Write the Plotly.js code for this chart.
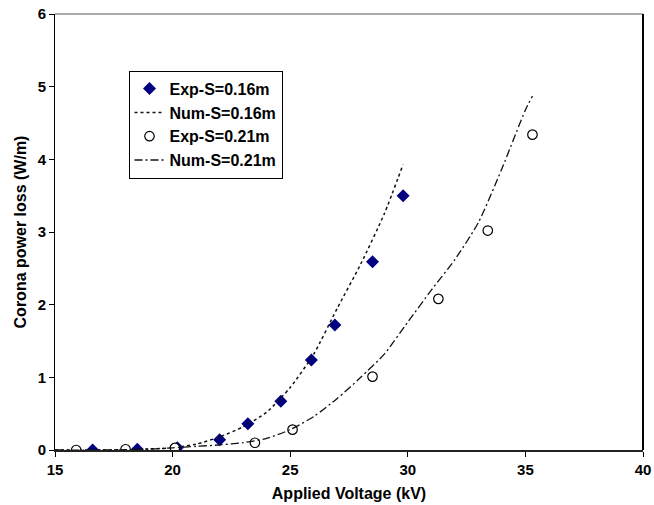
<!DOCTYPE html>
<html>
<head>
<meta charset="utf-8">
<script src="https://cdn.plot.ly/plotly-3.0.1.min.js"></script>
<style>html,body{margin:0;padding:0;background:#fff;}#chart{width:654px;height:505px;}</style>
</head>
<body>
<div id="chart"></div>
<script>
// Experimental, S = 0.16 m
const expS016_x = [16.6, 18.5, 20.2, 22.0, 23.2, 24.6, 25.9, 26.9, 28.5, 29.8];
const expS016_y = [0.0, 0.01, 0.03, 0.14, 0.36, 0.67, 1.24, 1.72, 2.59, 3.50];
// Numerical, S = 0.16 m
const numS016_x = [15, 16, 17, 18, 19, 20, 21, 22, 23, 24, 25, 26, 27, 28, 29, 29.8];
const numS016_y = [0, 0, 0, 0.005, 0.015, 0.03, 0.08, 0.18, 0.32, 0.52, 0.86, 1.32, 1.95, 2.56, 3.25, 3.93];
// Experimental, S = 0.21 m
const expS021_x = [15.9, 18.0, 20.1, 23.5, 25.1, 28.5, 31.3, 33.4, 35.3];
const expS021_y = [0.0, 0.01, 0.03, 0.10, 0.28, 1.01, 2.08, 3.02, 4.34];
// Numerical, S = 0.21 m
const numS021_x = [15, 17, 19, 20, 21, 22, 23, 24, 25, 26, 27, 28, 29, 30, 31, 32, 33, 34, 35, 35.3];
const numS021_y = [0, 0, 0.01, 0.03, 0.05, 0.07, 0.10, 0.16, 0.28, 0.46, 0.71, 1.00, 1.32, 1.76, 2.20, 2.62, 3.13, 3.87, 4.68, 4.87];

const xTicks = [15, 20, 25, 30, 35, 40];
const yTicks = [0, 1, 2, 3, 4, 5, 6];

const FONT = 'Arial, "Liberation Sans", sans-serif';

const traces = [
  {x: expS016_x, y: expS016_y, name: 'Exp-S=0.16m', mode: 'markers', type: 'scatter',
   marker: {symbol: 'diamond', size: 10, color: '#000080', line: {width: 0}}},
  {x: numS016_x, y: numS016_y, name: 'Num-S=0.16m', mode: 'lines', type: 'scatter',
   line: {color: '#111', width: 1.5, dash: 'dot', shape: 'spline', smoothing: 0.6}},
  {x: expS021_x, y: expS021_y, name: 'Exp-S=0.21m', mode: 'markers', type: 'scatter',
   marker: {symbol: 'circle', size: 9.5, color: '#ffffff', line: {color: '#000', width: 1.2}}},
  {x: numS021_x, y: numS021_y, name: 'Num-S=0.21m', mode: 'lines', type: 'scatter',
   line: {color: '#111', width: 1.3, dash: '8px,3px,2px,3px', shape: 'spline', smoothing: 0.6}}
];

const layout = {
  width: 654, height: 505,
  margin: {l: 55, r: 11, t: 14, b: 55},
  paper_bgcolor: '#fff', plot_bgcolor: '#fff',
  font: {family: FONT, color: '#000'},
  showlegend: true,
  legend: {
    x: 0.125, y: 0.870, xanchor: 'left', yanchor: 'top',
    bgcolor: '#fff', bordercolor: '#000', borderwidth: 1,
    font: {family: FONT, size: 16, color: '#000', weight: 'bold'}
  },
  xaxis: {
    range: [15, 40], tickvals: xTicks, ticktext: xTicks.map(String),
    showgrid: false, zeroline: false,
    showline: true, linecolor: '#222', linewidth: 2,
    ticks: 'outside', ticklen: 5, tickcolor: '#000', tickwidth: 1,
    tickfont: {family: FONT, size: 15, color: '#000', weight: 'bold'},
    title: {text: 'Applied Voltage (kV)', font: {family: FONT, size: 16, color: '#000', weight: 'bold'}, standoff: 11},
    automargin: false
  },
  yaxis: {
    range: [0, 6], tickvals: yTicks, ticktext: yTicks.map(String),
    showgrid: false, zeroline: false,
    showline: true, linecolor: '#000', linewidth: 1,
    ticks: 'outside', ticklen: 5, tickcolor: '#000', tickwidth: 1,
    tickfont: {family: FONT, size: 15, color: '#000', weight: 'bold'},
    title: {text: 'Corona power loss (W/m)', font: {family: FONT, size: 16, color: '#000', weight: 'bold'}, standoff: 7},
    automargin: false
  },
  shapes: [
    {type: 'line', xref: 'paper', yref: 'paper', x0: 0, x1: 1, y0: 1, y1: 1, line: {color: '#555', width: 1}},
    {type: 'line', xref: 'paper', yref: 'paper', x0: 1, x1: 1, y0: 0, y1: 1, line: {color: '#000', width: 2}}
  ]
};

Plotly.newPlot('chart', traces, layout, {displayModeBar: false, staticPlot: true});
</script>
</body>
</html>
